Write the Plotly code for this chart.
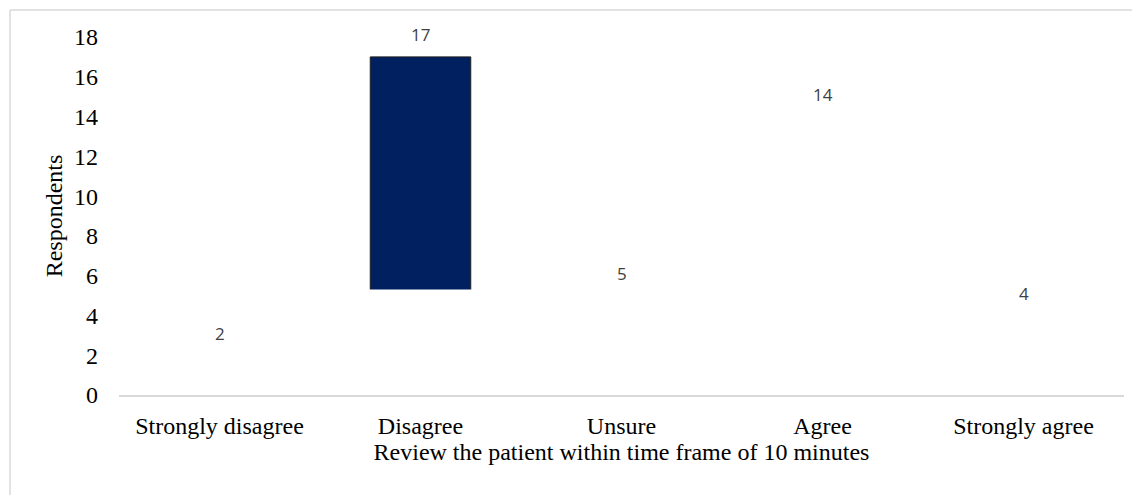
import plotly.graph_objects as go

categories = ["Strongly disagree", "Disagree", "Unsure", "Agree", "Strongly agree"]
respondents = [2, 17, 5, 14, 4]
y_ticks = [0, 2, 4, 6, 8, 10, 12, 14, 16, 18]

# Only the "Disagree" bar is filled in the reference; the rest are unfilled.
bar_fill = ["rgba(0,0,0,0)", "#002060", "rgba(0,0,0,0)", "rgba(0,0,0,0)", "rgba(0,0,0,0)"]
bar_line = ["rgba(0,0,0,0)", "#1f1f1f", "rgba(0,0,0,0)", "rgba(0,0,0,0)", "rgba(0,0,0,0)"]
# In the reference the lower part of the filled bar is not drawn (blank up to ~5.2)
hidden_lower = [0, 5.2, 0, 0, 0]

SERIF = "Liberation Serif, Times New Roman, serif"
LABEL_FONT = "Open Sans, Lato, sans-serif"
FS = 24

fig = go.Figure()
fig.add_trace(go.Bar(
    x=categories, y=respondents, width=0.5,
    marker=dict(color=bar_fill, line=dict(color=bar_line, width=1)),
    hoverinfo="x+y", showlegend=False,
))
fig.add_trace(go.Bar(
    x=categories, y=hidden_lower, width=0.5,
    marker=dict(color="white", line=dict(color="white", width=4)),
    hoverinfo="skip", showlegend=False,
))

for c, v in zip(categories, respondents):
    fig.add_annotation(x=c, y=v, xref="x", yref="y", text=str(v), showarrow=False,
                       yshift=22, font=dict(family=LABEL_FONT, size=17, color="#404040"))

fig.update_layout(
    width=1132, height=487,
    margin=dict(l=111, r=16, t=29, b=100),
    barmode="overlay",
    paper_bgcolor="white", plot_bgcolor="white",
    font=dict(family=SERIF, color="black", size=FS),
    showlegend=False,
)
fig.update_xaxes(
    showline=True, linecolor="#d9d9d9", linewidth=2,
    showgrid=False, ticks="", ticklabelstandoff=8,
    tickfont=dict(family=SERIF, size=FS, color="black"),
    title=dict(text="Review the patient within time frame of 10 minutes",
               font=dict(family=SERIF, size=FS, color="black"), standoff=0),
)
fig.update_yaxes(
    range=[0, 18], tickvals=y_ticks, showgrid=False, showline=False, zeroline=False,
    ticks="", ticklabelstandoff=20,
    tickfont=dict(family=SERIF, size=FS, color="black"),
    title=dict(text="Respondents", font=dict(family=SERIF, size=FS, color="black"), standoff=4),
)

# light outer frame of the chart area (only top and left edges visible in the reference)
fx0 = (10 - 119) / 1005
fy1 = (395 - 10) / 358
fig.add_shape(type="line", xref="paper", yref="paper", x0=fx0, x1=1.05, y0=fy1, y1=fy1,
              line=dict(color="#d9d9d9", width=1.5), layer="below")
fig.add_shape(type="line", xref="paper", yref="paper", x0=fx0, x1=fx0, y0=-0.4, y1=fy1,
              line=dict(color="#d9d9d9", width=1.5), layer="below")

fig.write_html("out.html")
